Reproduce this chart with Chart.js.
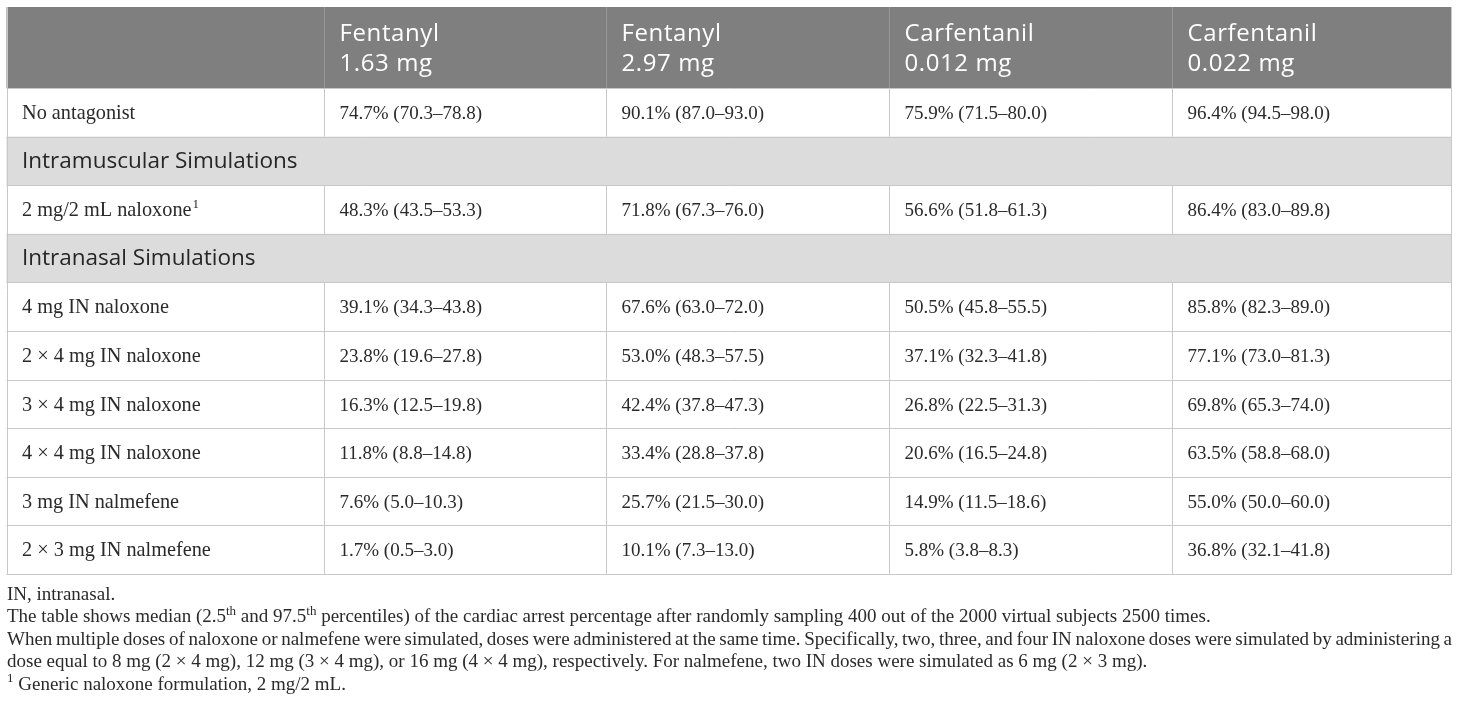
<!DOCTYPE html>
<html>
<head>
<meta charset="utf-8">
<script src="https://cdn.jsdelivr.net/npm/chart.js@4.4.1/dist/chart.umd.min.js"></script>
<style>
  html, body { margin: 0; padding: 0; background: #fff; }
  #wrap { width: 1460px; height: 710px; position: relative; }
</style>
</head>
<body>
<div id="wrap"><canvas id="tableChart"></canvas></div>
<script>
// column headers
const columnNames = ["Fentanyl", "Fentanyl", "Carfentanil", "Carfentanil"];
const columnDoses = ["1.63 mg", "2.97 mg", "0.012 mg", "0.022 mg"];

// rows, section rows span the whole table
const rowLabels = [
  "No antagonist",
  "Intramuscular Simulations",
  "2 mg/2 mL naloxone",
  "Intranasal Simulations",
  "4 mg IN naloxone",
  "2 × 4 mg IN naloxone",
  "3 × 4 mg IN naloxone",
  "4 × 4 mg IN naloxone",
  "3 mg IN nalmefene",
  "2 × 3 mg IN nalmefene"
];
const sectionLabels = ["Intramuscular Simulations", "Intranasal Simulations"];
const labelNotes = { "2 mg/2 mL naloxone": "1" };

// median (2.5th–97.5th percentile), null on section rows
const fent163Median = [74.7, null, 48.3, null, 39.1, 23.8, 16.3, 11.8, 7.6, 1.7];
const fent163Low    = [70.3, null, 43.5, null, 34.3, 19.6, 12.5, 8.8, 5.0, 0.5];
const fent163High   = [78.8, null, 53.3, null, 43.8, 27.8, 19.8, 14.8, 10.3, 3.0];

const fent297Median = [90.1, null, 71.8, null, 67.6, 53.0, 42.4, 33.4, 25.7, 10.1];
const fent297Low    = [87.0, null, 67.3, null, 63.0, 48.3, 37.8, 28.8, 21.5, 7.3];
const fent297High   = [93.0, null, 76.0, null, 72.0, 57.5, 47.3, 37.8, 30.0, 13.0];

const carf012Median = [75.9, null, 56.6, null, 50.5, 37.1, 26.8, 20.6, 14.9, 5.8];
const carf012Low    = [71.5, null, 51.8, null, 45.8, 32.3, 22.5, 16.5, 11.5, 3.8];
const carf012High   = [80.0, null, 61.3, null, 55.5, 41.8, 31.3, 24.8, 18.6, 8.3];

const carf022Median = [96.4, null, 86.4, null, 85.8, 77.1, 69.8, 63.5, 55.0, 36.8];
const carf022Low    = [94.5, null, 83.0, null, 82.3, 73.0, 65.3, 58.8, 50.0, 32.1];
const carf022High   = [98.0, null, 89.8, null, 89.0, 81.3, 74.0, 68.0, 60.0, 41.8];

// ^...^ marks superscript
const footnotes = [
  "IN, intranasal.",
  "The table shows median (2.5^th^ and 97.5^th^ percentiles) of the cardiac arrest percentage after randomly sampling 400 out of the 2000 virtual subjects 2500 times.",
  "When multiple doses of naloxone or nalmefene were simulated, doses were administered at the same time. Specifically, two, three, and four IN naloxone doses were simulated by administering a",
  "dose equal to 8 mg (2 × 4 mg), 12 mg (3 × 4 mg), or 16 mg (4 × 4 mg), respectively. For nalmefene, two IN doses were simulated as 6 mg (2 × 3 mg).",
  "^1^ Generic naloxone formulation, 2 mg/2 mL."
];
const justifiedNotes = [2];

const columns = [
  { median: fent163Median, low: fent163Low, high: fent163High },
  { median: fent297Median, low: fent297Low, high: fent297High },
  { median: carf012Median, low: carf012Low, high: carf012High },
  { median: carf022Median, low: carf022Low, high: carf022High }
];

// layout, in the units of the x / y scales
const colEdges = [6.5, 324, 606, 889, 1172, 1452];
const headTop = 7;
const headBottom = 88;
const rowHeight = 48.6;
const cellPad = 15.5;
const noteTop = 599.5;
const noteStep = 22.6;
const noteLeft = 7;

const SANS = "'Open Sans', 'Noto Sans', sans-serif";
const SERIF = "'Liberation Serif', 'DejaVu Serif', serif";

function fmt(v) {
  return v.toFixed(1);
}

function drawRich(ctx, text, x, y, size, justifyTo) {
  const parts = text.split("^");
  const supSize = Math.round(size * 0.66);
  let words = [];
  parts.forEach((p, i) => {
    if (i % 2 === 1) {
      words.push({ text: p, sup: true });
    } else {
      p.split(/( )/).forEach(w => {
        if (w === "") return;
        words.push({ text: w, sup: false, space: w === " " });
      });
    }
  });
  let total = 0;
  let spaces = 0;
  words.forEach(w => {
    ctx.font = `${w.sup ? supSize : size}px ${SERIF}`;
    w.width = ctx.measureText(w.text).width;
    total += w.width;
    if (w.space) spaces++;
  });
  let extra = 0;
  if (justifyTo && spaces > 0) extra = (justifyTo - x - total) / spaces;
  let cx = x;
  words.forEach(w => {
    ctx.font = `${w.sup ? supSize : size}px ${SERIF}`;
    ctx.fillText(w.text, cx, w.sup ? y - size * 0.4 : y);
    cx += w.width + (w.space ? extra : 0);
  });
}

const tablePlugin = {
  id: "tablePlugin",
  afterDraw(chart) {
    const ctx = chart.ctx;
    const xs = chart.scales.x;
    const ys = chart.scales.y;
    const X = v => xs.getPixelForValue(v);
    const Y = v => ys.getPixelForValue(v);
    const rowTop = i => headBottom + i * rowHeight;
    const tableBottom = rowTop(rowLabels.length);
    const L = X(colEdges[0]);
    const R = X(colEdges[colEdges.length - 1]);

    ctx.save();
    ctx.textBaseline = "alphabetic";
    ctx.textAlign = "left";

    // header background
    ctx.fillStyle = "#7f7f7f";
    ctx.fillRect(L, Y(headTop), R - L, Y(headBottom) - Y(headTop));

    // section backgrounds
    rowLabels.forEach((label, i) => {
      if (!sectionLabels.includes(label)) return;
      ctx.fillStyle = "#dcdcdc";
      ctx.fillRect(L, Y(rowTop(i)), R - L, Y(rowTop(i + 1)) - Y(rowTop(i)));
    });

    // header dividers
    ctx.strokeStyle = "#989898";
    ctx.lineWidth = 1;
    for (let c = 1; c < colEdges.length - 1; c++) {
      const px = Math.round(X(colEdges[c])) + 0.5;
      ctx.beginPath();
      ctx.moveTo(px, Y(headTop));
      ctx.lineTo(px, Y(headBottom));
      ctx.stroke();
    }

    // body grid
    ctx.strokeStyle = "#c8c8c8";
    for (let i = 0; i <= rowLabels.length; i++) {
      const py = Math.round(Y(rowTop(i))) + 0.5;
      ctx.beginPath();
      ctx.moveTo(L, py);
      ctx.lineTo(R, py);
      ctx.stroke();
    }
    rowLabels.forEach((label, i) => {
      if (sectionLabels.includes(label)) return;
      for (let c = 1; c < colEdges.length - 1; c++) {
        const px = Math.round(X(colEdges[c])) + 0.5;
        ctx.beginPath();
        ctx.moveTo(px, Y(rowTop(i)));
        ctx.lineTo(px, Y(rowTop(i + 1)));
        ctx.stroke();
      }
    });
    ctx.beginPath();
    ctx.moveTo(Math.round(L) + 0.5, Y(headTop));
    ctx.lineTo(Math.round(L) + 0.5, Y(tableBottom));
    ctx.moveTo(Math.round(R) - 0.5, Y(headTop));
    ctx.lineTo(Math.round(R) - 0.5, Y(tableBottom));
    ctx.stroke();

    // header text
    ctx.fillStyle = "#ffffff";
    ctx.font = `24px ${SANS}`;
    ctx.letterSpacing = "0.6px";
    columnNames.forEach((name, c) => {
      const tx = X(colEdges[c + 1] + cellPad);
      ctx.fillText(name, tx, Y(headTop + 34));
      ctx.fillText(columnDoses[c], tx, Y(headTop + 64.3));
    });
    ctx.letterSpacing = "0px";

    // rows
    rowLabels.forEach((label, i) => {
      const mid = rowTop(i) + rowHeight / 2;
      const lx = X(colEdges[0] + cellPad);
      if (sectionLabels.includes(label)) {
        ctx.fillStyle = "#262626";
        ctx.font = `22.5px ${SANS}`;
        ctx.fillText(label, lx, Y(mid + 7.2));
        return;
      }
      ctx.fillStyle = "#2a2a2a";
      ctx.font = `20.3px ${SERIF}`;
      ctx.fillText(label, lx, Y(mid + 6.6));
      if (labelNotes[label]) {
        const w = ctx.measureText(label).width;
        ctx.font = `13px ${SERIF}`;
        ctx.fillText(labelNotes[label], lx + w + 1, Y(mid - 1.2));
      }
      ctx.font = `19px ${SERIF}`;
      columns.forEach((col, c) => {
        if (col.median[i] == null) return;
        const txt = `${fmt(col.median[i])}% (${fmt(col.low[i])}–${fmt(col.high[i])})`;
        ctx.fillText(txt, X(colEdges[c + 1] + cellPad), Y(mid + 6.6));
      });
    });

    // footnotes
    ctx.fillStyle = "#2a2a2a";
    footnotes.forEach((note, i) => {
      const justify = justifiedNotes.includes(i) ? X(colEdges[colEdges.length - 1]) : null;
      drawRich(ctx, note, X(noteLeft), Y(noteTop + i * noteStep), 19, justify);
    });

    ctx.restore();
  }
};

new Chart(document.getElementById("tableChart"), {
  type: "scatter",
  data: { datasets: [{ data: [] }] },
  options: {
    responsive: true,
    maintainAspectRatio: false,
    animation: false,
    layout: { padding: 0 },
    plugins: {
      legend: { display: false },
      tooltip: { enabled: false }
    },
    scales: {
      x: { type: "linear", min: 0, max: 1460, display: false },
      y: { type: "linear", min: 0, max: 710, reverse: true, display: false }
    }
  },
  plugins: [tablePlugin]
});
</script>
</body>
</html>
